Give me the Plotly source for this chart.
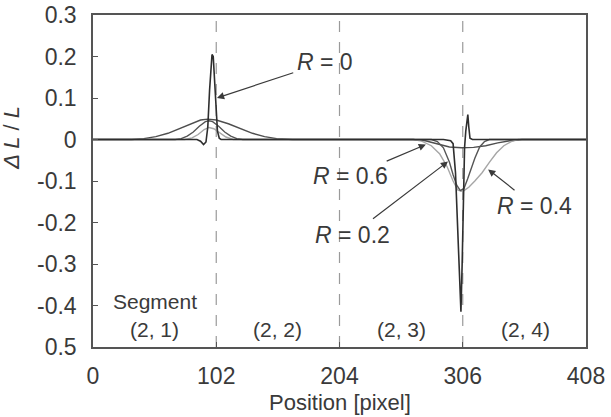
import plotly.graph_objects as go

# ---- data ----
x_r0 = [0, 86, 89, 91.5, 93.5, 95, 96.5, 97.5, 98.5, 99.5, 100.5, 101.5, 103, 104.5, 106, 200, 290, 296, 298,
        300, 302, 303.5, 304.5, 305.5, 306.5, 307.5, 308.5, 309.5, 310.2, 311, 312, 314, 408]
y_r0 = [0, 0, -0.004, -0.012, -0.006, 0.03, 0.12, 0.18, 0.205, 0.2, 0.15, 0.08, 0.02, 0.003, 0, 0, 0,
        -0.003, -0.01, -0.08, -0.22, -0.34, -0.415, -0.3, -0.15, -0.02, 0.02, 0.055, 0.06, 0.03, 0.003, 0, 0]

x_r02 = [0, 68, 73, 78, 83, 88, 93, 96, 99, 104, 109, 114, 119, 124, 280, 285, 290, 295, 298, 301, 304,
         307, 310, 313, 316, 320, 324, 328, 408]
y_r02 = [0, 0, 0.002, 0.008, 0.018, 0.032, 0.043, 0.045, 0.043, 0.032, 0.018, 0.008, 0.002, 0, 0, -0.005,
         -0.02, -0.055, -0.085, -0.11, -0.123, -0.118, -0.095, -0.07, -0.045, -0.018, -0.005, 0, 0]

x_r04 = [0, 76, 82, 87, 92, 96, 100, 105, 110, 116, 265, 272, 280, 287, 293, 298, 302, 306, 311, 316, 322,
         328, 334, 340, 346, 352, 408]
y_r04 = [0, 0, 0.004, 0.012, 0.024, 0.029, 0.026, 0.016, 0.006, 0, 0, -0.004, -0.015, -0.035, -0.065, -0.1,
         -0.122, -0.125, -0.115, -0.1, -0.08, -0.055, -0.032, -0.015, -0.005, 0, 0]

x_r06 = [0, 32, 42, 52, 62, 72, 82, 89, 95, 102, 112, 122, 132, 142, 152, 165, 265, 275, 285, 295, 305, 315,
         325, 335, 345, 355, 408]
y_r06 = [0, 0, 0.002, 0.007, 0.015, 0.027, 0.040, 0.047, 0.049, 0.047, 0.038, 0.026, 0.015, 0.007, 0.002, 0,
         0, -0.003, -0.01, -0.018, -0.02, -0.019, -0.015, -0.008, -0.003, 0, 0]

boundaries = [102, 204, 306]
seg_labels = ["(2, 1)", "(2, 2)", "(2, 3)", "(2, 4)"]
seg_centers = [51, 153, 255, 358]

x_ticks = [0, 102, 204, 306, 408]
y_ticks = [-0.5, -0.4, -0.3, -0.2, -0.1, 0, 0.1, 0.2, 0.3]
y_ticktext = ["0.5", "-0.4", "-0.3", "-0.2", "-0.1", "0", "0.1", "0.2", "0.3"]

FONT = "Liberation Sans, Arial, sans-serif"
TXT = "#3a3a3a"

fig = go.Figure()
series = [
    (x_r06, y_r06, "#4e4e4e", 1.4),
    (x_r04, y_r04, "#a6a6a6", 1.4),
    (x_r02, y_r02, "#555555", 1.4),
    (x_r0, y_r0, "#2e2e2e", 1.6),
]
for xs, ys, c, w in series:
    fig.add_trace(go.Scatter(x=xs, y=ys, mode="lines", line=dict(color=c, width=w),
                             showlegend=False, hoverinfo="skip"))

for b in boundaries:
    fig.add_shape(type="line", x0=b, x1=b, y0=0, y1=1, xref="x", yref="paper",
                  line=dict(color="#9a9a9a", width=1.2, dash="11px,10px"), layer="below")

# arrow annotations
arrows = [
    ("<i>R</i> = 0", 191.7, 0.186, 102.6, 0.10),
    ("<i>R</i> = 0.6", 213.3, -0.089, 275.5, -0.012),
    ("<i>R</i> = 0.2", 214.7, -0.229, 293.8, -0.053),
    ("<i>R</i> = 0.4", 365.4, -0.16, 327, -0.072),
]
for t, tx, ty, hx, hy in arrows:
    fig.add_annotation(x=hx, y=hy, ax=tx, ay=ty, xref="x", yref="y", axref="x", ayref="y",
                       text=t, showarrow=True, arrowhead=2, arrowsize=1.2, arrowwidth=1.2,
                       arrowcolor="#3a3a3a", font=dict(size=23, color=TXT, family=FONT),
                       standoff=0, startstandoff=2)

for lab, cx in zip(seg_labels, seg_centers):
    fig.add_annotation(x=cx, y=-0.458, xref="x", yref="y", text=lab, showarrow=False,
                       font=dict(size=21, color=TXT, family=FONT))
fig.add_annotation(x=51, y=-0.39, xref="x", yref="y", text="Segment", showarrow=False,
                   font=dict(size=21, color=TXT, family=FONT))

# axis titles placed as annotations for exact positioning
fig.add_annotation(x=0, y=0.63, xref="paper", yref="paper", xshift=-81, text="<i>Δ L</i> / <i>L</i>",
                   textangle=-90, showarrow=False, xanchor="center", yanchor="middle",
                   font=dict(size=22, color=TXT, family=FONT))
fig.add_annotation(x=0.5, y=0, xref="paper", yref="paper", yshift=-41, text="Position [pixel]",
                   showarrow=False, xanchor="center", yanchor="top",
                   font=dict(size=22, color=TXT, family=FONT))

fig.update_layout(
    width=611, height=417,
    margin=dict(l=93, r=25, t=15, b=70),
    plot_bgcolor="white", paper_bgcolor="white",
    font=dict(family=FONT, color=TXT, size=23),
    xaxis=dict(range=[0, 408], tickvals=x_ticks, showgrid=False, zeroline=False, automargin=False,
               showline=True, mirror=True, linecolor="#555555", linewidth=1.5,
               ticks="inside", ticklen=5, tickcolor="#555555", ticklabelstandoff=8,
               tickfont=dict(size=23, color=TXT)),
    yaxis=dict(range=[-0.5, 0.3], tickvals=y_ticks, ticktext=y_ticktext, showgrid=False, automargin=False,
               zeroline=False, showline=True, mirror=True, linecolor="#555555", linewidth=1.5,
               ticks="inside", ticklen=5, tickcolor="#555555", ticklabelstandoff=10,
               tickfont=dict(size=23, color=TXT)),
)

fig.write_html("out.html")
